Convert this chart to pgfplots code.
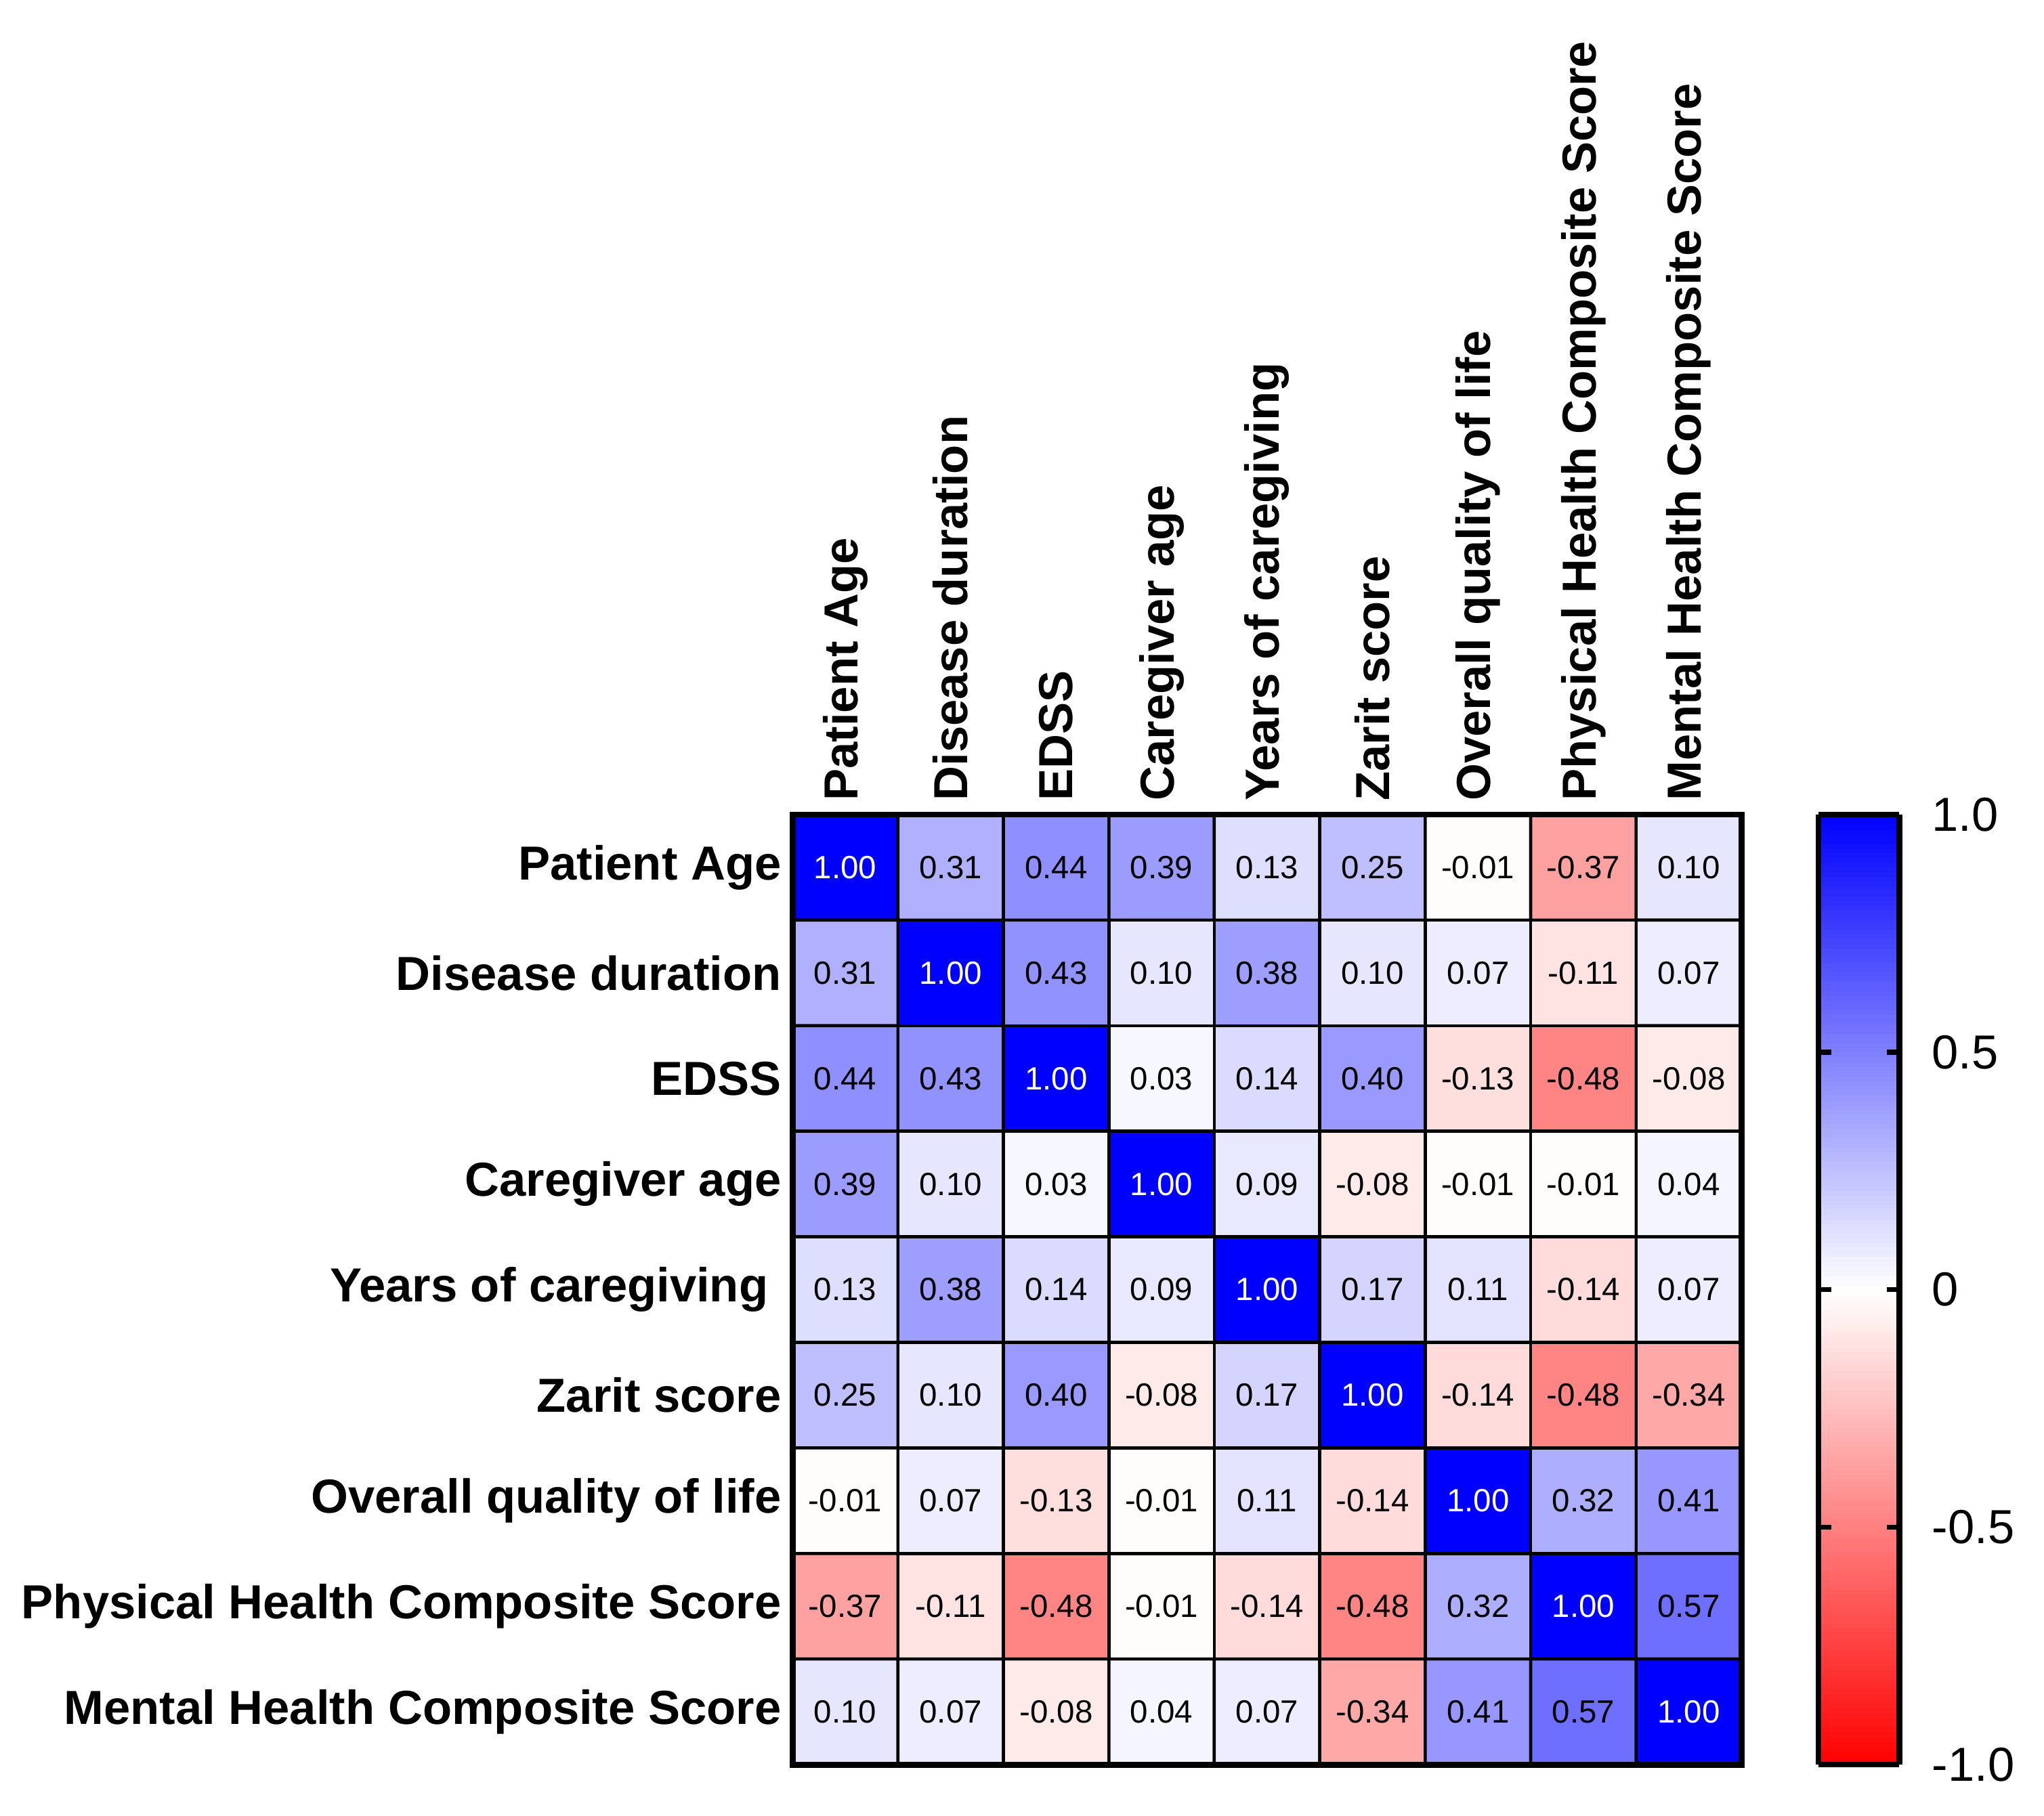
\documentclass[border=0pt]{standalone}
\usepackage{fontspec}
\setmainfont{Liberation Sans}
\usepackage{pgfplots}
\usepackage{pgfplotstable}
\pgfplotsset{compat=1.18}

% correlation matrix: x = column, y = row (0 = top), v = r
\pgfplotstableread{
x y v
0 0 1.00
1 0 0.31
2 0 0.44
3 0 0.39
4 0 0.13
5 0 0.25
6 0 -0.01
7 0 -0.37
8 0 0.10
0 1 0.31
1 1 1.00
2 1 0.43
3 1 0.10
4 1 0.38
5 1 0.10
6 1 0.07
7 1 -0.11
8 1 0.07
0 2 0.44
1 2 0.43
2 2 1.00
3 2 0.03
4 2 0.14
5 2 0.40
6 2 -0.13
7 2 -0.48
8 2 -0.08
0 3 0.39
1 3 0.10
2 3 0.03
3 3 1.00
4 3 0.09
5 3 -0.08
6 3 -0.01
7 3 -0.01
8 3 0.04
0 4 0.13
1 4 0.38
2 4 0.14
3 4 0.09
4 4 1.00
5 4 0.17
6 4 0.11
7 4 -0.14
8 4 0.07
0 5 0.25
1 5 0.10
2 5 0.40
3 5 -0.08
4 5 0.17
5 5 1.00
6 5 -0.14
7 5 -0.48
8 5 -0.34
0 6 -0.01
1 6 0.07
2 6 -0.13
3 6 -0.01
4 6 0.11
5 6 -0.14
6 6 1.00
7 6 0.32
8 6 0.41
0 7 -0.37
1 7 -0.11
2 7 -0.48
3 7 -0.01
4 7 -0.14
5 7 -0.48
6 7 0.32
7 7 1.00
8 7 0.57
0 8 0.10
1 8 0.07
2 8 -0.08
3 8 0.04
4 8 0.07
5 8 -0.34
6 8 0.41
7 8 0.57
8 8 1.00
}\corr

\begin{document}
\begin{tikzpicture}
\path[use as bounding box] (-182.4pt,-11.7pt) rectangle (288pt,406.2pt);
\begin{axis}[
  scale only axis,
  width=218.4pt, height=218.7pt,
  xmin=-0.5, xmax=8.5, ymin=-0.5, ymax=8.5,
  y dir=reverse,
  enlargelimits=false,
  axis on top,
  axis line style={line width=1.4pt},
  major tick length=0pt,
  xtick={0,...,8}, ytick={0,...,8},
  xticklabel pos=upper,
  xticklabels={Patient Age, Disease duration, EDSS, Caregiver age, Years of caregiving, Zarit score, Overall quality of life, Physical Health Composite Score, Mental Health Composite Score},
  yticklabels={Patient Age, Disease duration, EDSS, Caregiver age, {Years of caregiving\hspace*{3pt}}, Zarit score, Overall quality of life, Physical Health Composite Score, Mental Health Composite Score},
  xticklabel style={rotate=90, anchor=west, font=\bfseries\fontsize{11}{13}\selectfont, inner sep=0pt},
  yticklabel style={anchor=east, font=\bfseries\fontsize{11}{13}\selectfont, inner sep=0pt},
  xticklabel shift=3pt, yticklabel shift=2.4pt,
  colormap={rwb}{rgb255=(255,0,0) rgb255=(255,255,255) rgb255=(0,0,255)},
  point meta min=-1, point meta max=1,
  colorbar right,
  colorbar sampled,
  colorbar shift/.style={xshift=17.7pt},
  colorbar style={
    samples=201,
    scale only axis,
    width=18.6pt, height=218.7pt,
    at={(parent axis.north east)}, anchor=north west,
    enlargelimits=false,
    axis on top,
    axis line style={line width=1.3pt},
    ytick={-1,-0.5,0,0.5,1},
    yticklabels={-1.0,-0.5,0,0.5,1.0},
    ytick pos=both, yticklabel pos=right,
    tick align=inside,
    major tick length=2.9pt,
    major tick style={line width=1.2pt, black},
    yticklabel style={font=\fontsize{11}{13}\selectfont},
    yticklabel shift=4pt,
  },
]
\addplot[matrix plot*, mesh/cols=9, point meta=explicit, draw=black, line width=0.7pt]
  table[x=x, y=y, meta=v] {\corr};
\addplot[only marks, mark=none, draw=none,
  point meta=\thisrow{v},
  nodes near coords={\ifdim\pgfplotspointmetatransformed pt>995pt\color{white}\fi\pgfmathprintnumber[fixed,fixed zerofill,precision=2,assume math mode=true]{\pgfplotspointmeta}},
  every node near coord/.append style={anchor=center, text=black, font=\fontsize{7.4}{9}\selectfont}]
  table[x=x, y=y] {\corr};
\end{axis}
\end{tikzpicture}
\end{document}
